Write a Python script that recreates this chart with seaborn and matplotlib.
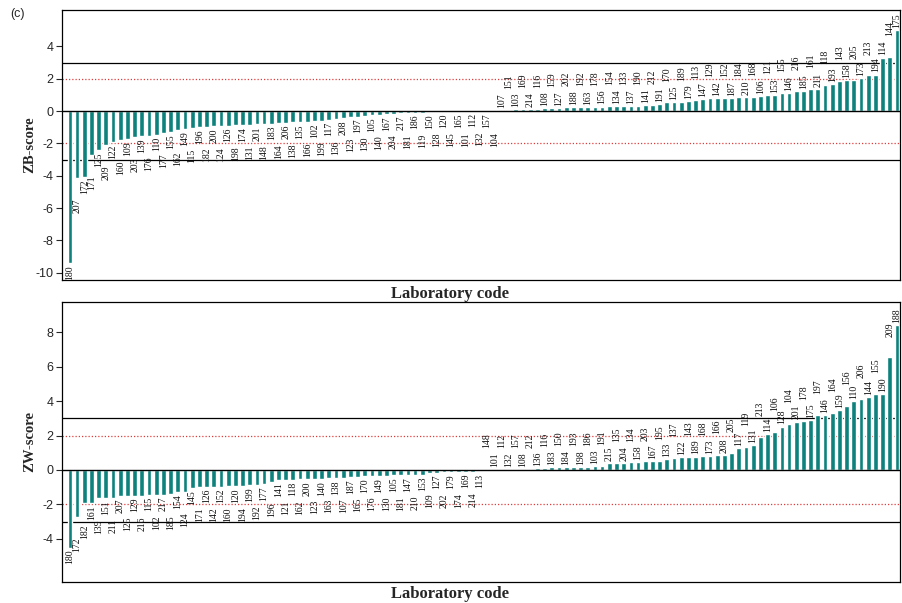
import numpy as np
import pandas as pd
import matplotlib
matplotlib.use("Agg")
import matplotlib.pyplot as plt
import seaborn as sns

# ---------------- data ----------------
top_labels = ["180", "207", "172", "171", "125", "209", "122", "160", "109", "203",
              "139", "176", "110", "177", "155", "162", "149", "115", "196", "182",
              "200", "124", "126", "198", "174", "131", "201", "148", "183", "164",
              "206", "138", "135", "166", "102", "199", "117", "136", "208", "123",
              "197", "130", "105", "140", "167", "204", "217", "181", "186", "119",
              "150", "128", "120", "145", "165", "101", "112", "132", "157", "104",
              "107", "151", "103", "169", "214", "116", "108", "159", "127", "202",
              "188", "192", "163", "178", "156", "154", "134", "133", "137", "190",
              "141", "212", "191", "170", "125", "189", "179", "113", "147", "129",
              "142", "152", "187", "184", "210", "168", "106", "121", "153", "155",
              "146", "216", "185", "161", "211", "118", "193", "143", "158", "205",
              "173", "213", "194", "114", "144", "175"]
top_values = [-9.4, -4.15, -4.1, -2.7, -2.44, -2.08, -1.92, -1.77, -1.75, -1.6,
              -1.56, -1.52, -1.46, -1.35, -1.31, -1.2, -1.12, -1.04, -1.0, -0.98,
              -0.95, -0.93, -0.9, -0.88, -0.86, -0.84, -0.82, -0.8, -0.78, -0.75,
              -0.73, -0.7, -0.68, -0.65, -0.62, -0.6, -0.56, -0.52, -0.45, -0.38,
              -0.34, -0.3, -0.27, -0.22, -0.19, -0.17, -0.15, -0.13, -0.11, -0.09,
              -0.08, -0.06, -0.05, -0.02, -0.02, -0.01, -0.01, -0.01, -0.01, -0.005,
              0.06, 0.08, 0.1, 0.12, 0.14, 0.15, 0.16, 0.18, 0.21, 0.23,
              0.24, 0.25, 0.26, 0.27, 0.28, 0.3, 0.3, 0.31, 0.32, 0.33,
              0.37, 0.4, 0.41, 0.53, 0.54, 0.57, 0.6, 0.68, 0.74, 0.82,
              0.82, 0.83, 0.83, 0.84, 0.88, 0.89, 0.9, 0.99, 1.0, 1.13,
              1.14, 1.23, 1.25, 1.36, 1.37, 1.6, 1.67, 1.85, 1.91, 1.95,
              2.06, 2.2, 2.26, 3.31, 3.35, 5.0]

bot_labels = ["180", "172", "182", "161", "139", "151", "211", "207", "125", "129",
              "216", "115", "102", "217", "185", "154", "124", "145", "171", "126",
              "142", "152", "160", "120", "194", "199", "192", "177", "196", "141",
              "121", "118", "162", "200", "123", "140", "163", "138", "107", "187",
              "165", "170", "176", "149", "130", "105", "181", "147", "210", "153",
              "109", "127", "202", "179", "174", "169", "214", "113",
              "148", "101", "112", "132", "157", "108", "212", "136", "116", "183",
              "150", "184", "193", "198", "186", "103", "191", "215", "135", "204",
              "134", "158", "203", "167", "195", "133", "137", "122", "143", "189",
              "168", "173", "166", "208", "205", "117", "119", "131", "213", "114",
              "106", "128", "104", "201", "178", "175", "197", "146", "164", "159",
              "156", "110", "206", "144", "155", "190", "209", "188"]
bot_values = [-4.5, -2.7, -1.94, -1.92, -1.65, -1.65, -1.63, -1.51, -1.51, -1.5,
              -1.49, -1.45, -1.45, -1.44, -1.4, -1.26, -1.25, -1.07, -0.97, -0.97,
              -0.96, -0.96, -0.95, -0.95, -0.94, -0.87, -0.86, -0.83, -0.68, -0.58,
              -0.58, -0.57, -0.54, -0.54, -0.53, -0.52, -0.48, -0.47, -0.45, -0.4,
              -0.39, -0.35, -0.34, -0.33, -0.32, -0.31, -0.3, -0.29, -0.28, -0.27,
              -0.16, -0.15, -0.14, -0.13, -0.12, -0.11, -0.1, -0.08,
              0.04, 0.05, 0.05, 0.06, 0.06, 0.07, 0.08, 0.12, 0.14, 0.15,
              0.16, 0.16, 0.17, 0.18, 0.2, 0.21, 0.22, 0.38, 0.4, 0.42,
              0.44, 0.46, 0.5, 0.52, 0.55, 0.62, 0.7, 0.77, 0.78, 0.78,
              0.79, 0.8, 0.87, 0.88, 1.0, 1.3, 1.33, 1.45, 1.9, 2.1,
              2.2, 2.52, 2.67, 2.81, 2.87, 2.9, 3.2, 3.2, 3.33, 3.49,
              3.72, 4.01, 4.13, 4.26, 4.4, 4.4, 6.53, 8.39]

top_yticks = [-10, -8, -6, -4, -2, 0, 2, 4]
bot_yticks = [-4, -2, 0, 2, 4, 6, 8]

# ---------------- style ----------------
sns.set_theme(style="ticks")
plt.rcParams['font.family'] = ['Liberation Sans', 'DejaVu Sans']
SERIF = ['Liberation Serif', 'DejaVu Serif']
BAR = "#0d827d"

fig = plt.figure(figsize=(9.02, 6.03), dpi=100)
W, H = 902.0, 603.0
ax1 = fig.add_axes([62 / W, 1 - 280 / H, 838 / W, 270 / H])
ax2 = fig.add_axes([62 / W, 1 - 582 / H, 838 / W, 280 / H])


def draw(ax, labels, values, ylim, yticks, ylabel, far_fn):
    n = len(values)
    df = pd.DataFrame({"pos": np.arange(n), "val": values})
    sns.barplot(data=df, x="pos", y="val", color=BAR, saturation=1,
                width=0.66, ax=ax, errorbar=None)
    ax.set_xlim(-1.1, n - 1 + 0.42)
    ax.set_ylim(*ylim)
    ax.axhline(0, color="black", lw=1.0, zorder=3)
    for v in (3, -3):
        ax.axhline(v, color="black", lw=0.9, zorder=0)
    for v in (2, -2):
        ax.axhline(v, color="#e03c3c", lw=0.9, ls=(0, (1, 1.6)), zorder=0)
    for i, (lab, v) in enumerate(zip(labels, values)):
        off = 15 if far_fn(i) else 1.5
        if v >= 0:
            ax.annotate(lab, (i, v), xytext=(0, off), textcoords="offset points",
                        rotation=90, ha="center", va="bottom", fontsize=7,
                        family=SERIF, color="#111111")
        else:
            ax.annotate(lab, (i, v), xytext=(0, -off), textcoords="offset points",
                        rotation=90, ha="center", va="top", fontsize=7,
                        family=SERIF, color="#111111")
    ax.set_yticks(yticks)
    ax.set_yticklabels([str(t) for t in yticks], fontsize=9)
    ax.set_xticks([])
    ax.tick_params(axis="y", direction="out", length=4, width=0.8, pad=2)
    for s in ax.spines.values():
        s.set_visible(True)
        s.set_color("black")
        s.set_linewidth(0.9)
    ax.set_ylabel(ylabel, fontsize=10.5, fontweight="bold", family=SERIF)
    ax.set_xlabel("Laboratory code", fontsize=12, fontweight="bold", family=SERIF)


def top_far(i):
    if i >= 113:
        return i == 114
    return i % 2 == 1


def bot_far(i):
    return (i == 1) or (i >= 2 and i % 2 == 0)


draw(ax1, top_labels, top_values, (-10.45, 6.25), top_yticks, "ZB-score", top_far)
draw(ax2, bot_labels, bot_values, (-6.5, 9.75), bot_yticks, "ZW-score", bot_far)

ax1.yaxis.set_label_coords(-0.031, 0.5)
ax2.yaxis.set_label_coords(-0.031, 0.5)
ax1.xaxis.set_label_coords(0.463, -0.022)
ax2.xaxis.set_label_coords(0.463, -0.016)

fig.text(10 / W, 1 - 14 / H, "(c)", fontsize=9, ha="left", va="center")

fig.savefig("out.png", dpi=100)
